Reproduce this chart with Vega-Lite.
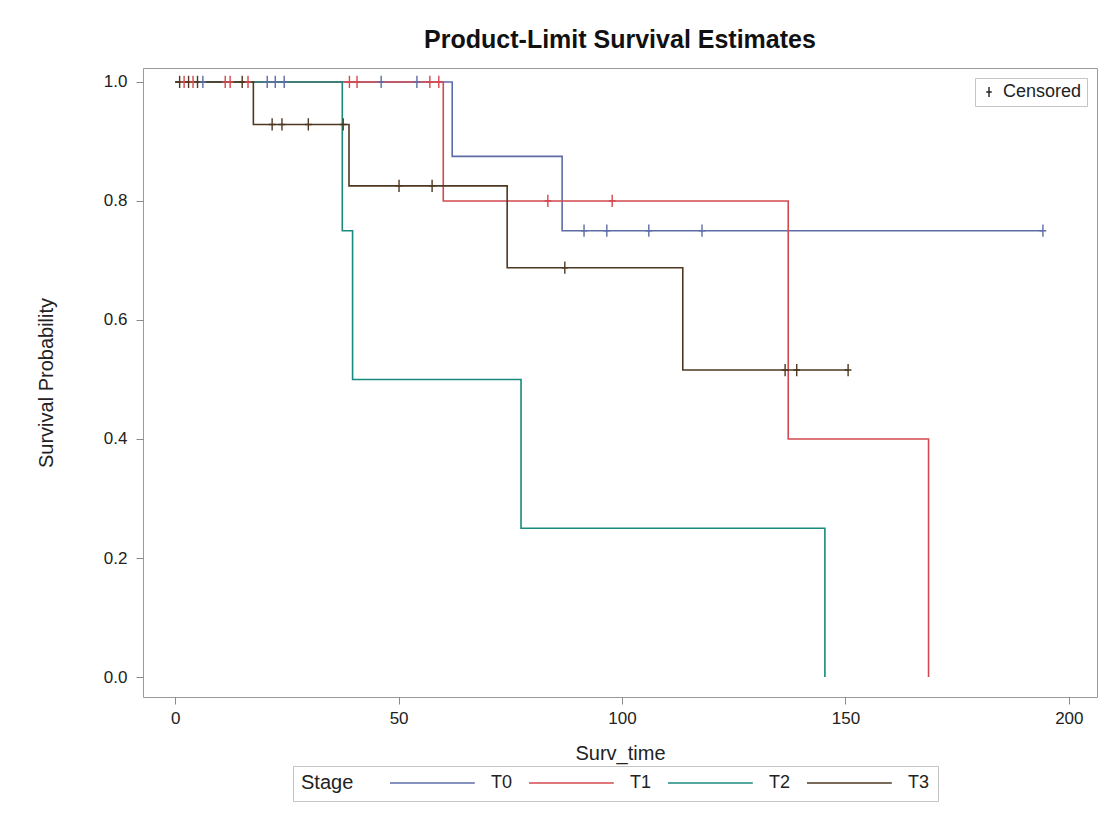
{
  "$schema": "https://vega.github.io/schema/vega-lite/v6.json",
  "autosize": "none",
  "width": 954,
  "height": 629,
  "padding": {"left": 143, "top": 68, "right": 9, "bottom": 136},
  "background": "white",
  "config": {
    "font": "Liberation Sans",
    "view": {"stroke": "#9a9a9a", "strokeWidth": 1},
    "axis": {
      "grid": false,
      "domain": false,
      "tickColor": "#8a8a8a",
      "tickSize": 7,
      "labelFontSize": 17,
      "labelColor": "#222",
      "titleFontSize": 20,
      "titleFontWeight": "normal",
      "titleColor": "#222"
    }
  },
  "title": {
    "text": "Product-Limit Survival Estimates",
    "fontSize": 25,
    "fontWeight": "bold",
    "color": "#111",
    "anchor": "middle",
    "offset": 15
  },
  "datasets": {
    "steps": [
      {"Stage": "T0", "t": 0, "s": 1},
      {"Stage": "T0", "t": 62, "s": 0.875},
      {"Stage": "T0", "t": 86.6, "s": 0.75},
      {"Stage": "T0", "t": 194.2, "s": 0.75},
      {"Stage": "T1", "t": 0, "s": 1},
      {"Stage": "T1", "t": 60, "s": 0.8},
      {"Stage": "T1", "t": 137.2, "s": 0.4},
      {"Stage": "T1", "t": 168.6, "s": 0},
      {"Stage": "T2", "t": 0, "s": 1},
      {"Stage": "T2", "t": 37.4, "s": 0.75},
      {"Stage": "T2", "t": 39.7, "s": 0.5},
      {"Stage": "T2", "t": 77.4, "s": 0.25},
      {"Stage": "T2", "t": 145.4, "s": 0},
      {"Stage": "T3", "t": 0, "s": 1},
      {"Stage": "T3", "t": 17.5, "s": 0.928571},
      {"Stage": "T3", "t": 38.9, "s": 0.825397},
      {"Stage": "T3", "t": 74.3, "s": 0.687831},
      {"Stage": "T3", "t": 113.6, "s": 0.515873},
      {"Stage": "T3", "t": 150.8, "s": 0.515873}
    ],
    "censored": [
      {"Stage": "T3", "t": 1, "s": 1},
      {"Stage": "T1", "t": 2, "s": 1},
      {"Stage": "T3", "t": 3, "s": 1},
      {"Stage": "T1", "t": 4, "s": 1},
      {"Stage": "T3", "t": 5, "s": 1},
      {"Stage": "T0", "t": 6.2, "s": 1},
      {"Stage": "T1", "t": 11.2, "s": 1},
      {"Stage": "T1", "t": 12.3, "s": 1},
      {"Stage": "T3", "t": 15, "s": 1},
      {"Stage": "T1", "t": 16.3, "s": 1},
      {"Stage": "T0", "t": 20.6, "s": 1},
      {"Stage": "T0", "t": 22.4, "s": 1},
      {"Stage": "T0", "t": 24.4, "s": 1},
      {"Stage": "T1", "t": 39, "s": 1},
      {"Stage": "T1", "t": 40.7, "s": 1},
      {"Stage": "T0", "t": 46.1, "s": 1},
      {"Stage": "T0", "t": 54.1, "s": 1},
      {"Stage": "T1", "t": 57, "s": 1},
      {"Stage": "T1", "t": 59, "s": 1},
      {"Stage": "T1", "t": 83.4, "s": 0.8},
      {"Stage": "T1", "t": 97.8, "s": 0.8},
      {"Stage": "T0", "t": 91.5, "s": 0.75},
      {"Stage": "T0", "t": 96.6, "s": 0.75},
      {"Stage": "T0", "t": 106, "s": 0.75},
      {"Stage": "T0", "t": 117.9, "s": 0.75},
      {"Stage": "T0", "t": 194.2, "s": 0.75},
      {"Stage": "T3", "t": 21.7, "s": 0.928571},
      {"Stage": "T3", "t": 23.9, "s": 0.928571},
      {"Stage": "T3", "t": 29.8, "s": 0.928571},
      {"Stage": "T3", "t": 37.6, "s": 0.928571},
      {"Stage": "T3", "t": 50.1, "s": 0.825397},
      {"Stage": "T3", "t": 57.5, "s": 0.825397},
      {"Stage": "T3", "t": 87.2, "s": 0.687831},
      {"Stage": "T3", "t": 136.5, "s": 0.515873},
      {"Stage": "T3", "t": 139.1, "s": 0.515873},
      {"Stage": "T3", "t": 150.6, "s": 0.515873}
    ]
  },
  "layer": [
    {
      "data": {"name": "steps"},
      "mark": {"type": "line", "interpolate": "step-after", "strokeWidth": 1.6, "clip": true},
      "encoding": {
        "x": {
          "field": "t", "type": "quantitative",
          "scale": {"domain": [-7.2, 206.3], "nice": false, "zero": false},
          "axis": {"values": [0, 50, 100, 150, 200], "title": "Surv_time", "labelPadding": 6, "titlePadding": 17}
        },
        "y": {
          "field": "s", "type": "quantitative",
          "scale": {"domain": [-0.0336, 1.0235], "nice": false, "zero": false},
          "axis": {"values": [0, 0.2, 0.4, 0.6, 0.8, 1.0], "format": ".1f", "title": "Survival Probability", "labelPadding": 9, "titlePadding": 47}
        },
        "color": {
          "field": "Stage", "type": "nominal",
          "scale": {"domain": ["T0", "T1", "T2", "T3"], "range": ["#5e6ca8", "#d24a4f", "#1a8a7e", "#4e3822"]},
          "legend": {
            "orient": "none",
            "legendX": 150,
            "legendY": 698,
            "direction": "horizontal",
            "title": "Stage",
            "titleOrient": "left",
            "titleFontSize": 20,
            "titleFontWeight": "normal",
            "titleColor": "#222",
            "titlePadding": 35,
            "titleBaseline": "middle",
            "symbolType": "M-1,0L9.6,0",
            "symbolSize": 256,
            "symbolStrokeWidth": 1.6,
            "labelFontSize": 18,
            "labelColor": "#222",
            "labelOffset": 84,
            "columnPadding": 12,
            "strokeColor": "#c4c4c4",
            "padding": 8
          }
        }
      }
    },
    {
      "data": {"name": "censored"},
      "mark": {"type": "point", "filled": false, "strokeWidth": 1.4, "size": 150, "opacity": 1},
      "encoding": {
        "x": {"field": "t", "type": "quantitative"},
        "y": {"field": "s", "type": "quantitative"},
        "color": {"field": "Stage", "type": "nominal", "legend": null},
        "shape": {
          "datum": "Censored",
          "scale": {"range": ["M-0.55,0L0.55,0M0,-1L0,1"]},
          "legend": {
            "orient": "top-right",
            "offset": 10,
            "title": null,
            "symbolStrokeColor": "#222",
            "symbolStrokeWidth": 1.4,
            "symbolSize": 100,
            "labelFontSize": 18,
            "labelColor": "#222",
            "labelOffset": 5,
            "strokeColor": "#c4c4c4",
            "padding": 5
          }
        }
      }
    }
  ]
}
